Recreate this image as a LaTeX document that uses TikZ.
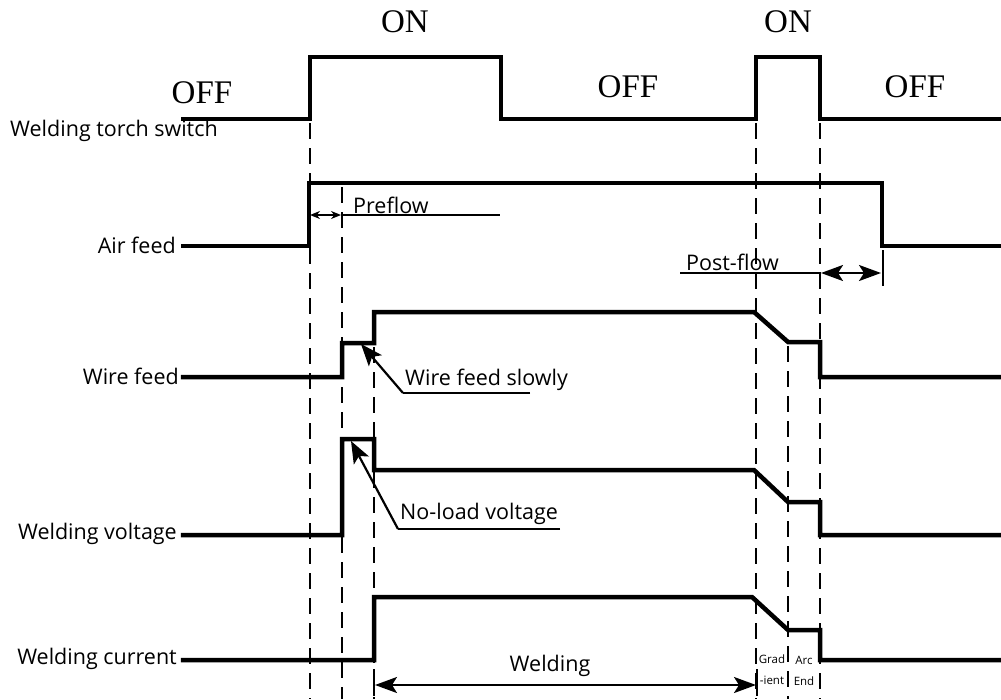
\documentclass[tikz,border=0pt]{standalone}
\usepackage{fontspec}
\setmainfont{Liberation Serif}
\newfontfamily\sansf{Open Sans}
\usetikzlibrary{arrows.meta}
\begin{document}
\begin{tikzpicture}[x=1pt,y=-1pt,
  sig/.style={line width=4.5pt, line join=miter, line cap=rect},
  dsh/.style={line width=2.5pt, dash pattern=on 16pt off 9pt},
  thin/.style={line width=2.2pt},
  lab/.style={font=\sansf\fontsize{21.5}{21.5}\selectfont, inner sep=0pt},
  small/.style={font=\sansf\fontsize{11.5}{11.5}\selectfont, inner sep=0pt},
  st/.style={font=\fontsize{33}{33}\selectfont, inner sep=0pt},
  bigarr/.style={line width=2.2pt, {Stealth[length=22pt,width=16pt,inset=5pt]}-{Stealth[length=22pt,width=16pt,inset=5pt]}},
  smarr/.style={line width=2pt, {Stealth[length=10pt,width=8pt]}-{Stealth[length=10pt,width=8pt]}},
  ptr/.style={line width=2.2pt, -{Stealth[length=22pt,width=17pt,inset=5pt]}}]
\useasboundingbox (0,0) rectangle (1001,699);
% dashed guide lines
\draw[dsh] (310,123) -- (310,699);
\draw[dsh] (342,187) -- (342,699);
\draw[dsh] (374,347) -- (374,699);
\draw[dsh] (756,123) -- (756,699);
\draw[dsh] (788,346) -- (788,699);
\draw[dsh] (820,123) -- (820,699);
% torch switch
\draw[sig] (183,119) -- (310,119) -- (310,57) -- (501,57) -- (501,119) -- (756,119) -- (756,57) -- (820,57) -- (820,119) -- (1001,119);
% air feed
\draw[sig] (183,246) -- (309,246) -- (309,183) -- (882,183) -- (882,246) -- (1001,246);
% wire feed
\draw[sig] (183,377) -- (342,377) -- (342,343) -- (374,343) -- (374,312) -- (754,312) -- (788,342) -- (820,342) -- (820,377) -- (1001,377);
% welding voltage
\draw[sig] (183,535) -- (342,535) -- (342,439) -- (374,439) -- (374,470) -- (754,470) -- (788,502) -- (820,502) -- (820,535) -- (1001,535);
% welding current
\draw[sig] (183,660) -- (374,660) -- (374,597) -- (752,597) -- (788,630) -- (820,630) -- (820,660) -- (1001,660);
% state labels
\node[st] (off1) at (202,93) {OFF};
\node[st] (on1) at (405,22) {ON};
\node[st] (off2) at (628,87) {OFF};
\node[st] (on2) at (788,22) {ON};
\node[st] (off3) at (915,87) {OFF};
% signal names
\node[lab, anchor=west] (ts) at (10,131) {Welding torch switch};
\node[lab, anchor=east] (af) at (176,245) {Air feed};
\node[lab, anchor=east] (wf) at (179,376) {Wire feed};
\node[lab, anchor=east] (wv) at (177,534) {Welding voltage};
\node[lab, anchor=east] (wc) at (177,659) {Welding current};
% preflow
\coordinate (pa) at (310,215);
\coordinate (pb) at (341,215);
\coordinate (pe) at (500,215);
\draw[thin] (pb) -- (pe);
\draw[smarr] (pa) -- (pb);
\node[lab, anchor=west] (pf) at (353,205) {Preflow};
% post-flow
\coordinate (qa) at (680,273);
\coordinate (qb) at (821,273);
\coordinate (qc) at (881,273);
\draw[thin] (qa) -- (qb);
\draw[bigarr] (qb) -- (qc);
\draw[thin] (883,250) -- (883,286);
\node[lab, anchor=west] (pof) at (686,262) {Post-flow};
% wire feed slowly
\coordinate (w1) at (530,393);
\coordinate (w2) at (403,393);
\coordinate (w3) at (361,344);
\draw[thin] (w1) -- (w2);
\draw[ptr] (w2) -- (w3);
\node[lab, anchor=west] (wfs) at (405,380) {Wire feed slowly};
% no-load voltage
\coordinate (v1) at (560,529);
\coordinate (v2) at (398,529);
\coordinate (v3) at (351,441);
\draw[thin] (v1) -- (v2);
\draw[ptr] (v2) -- (v3);
\node[lab, anchor=west] (nlv) at (400,514) {No-load voltage};
% welding arrow
\draw[thin] (374,669) -- (374,696);
\draw[thin] (757,669) -- (757,696);
\coordinate (wa) at (375,685);
\coordinate (wb) at (756,685);
\draw[bigarr] (wa) -- (wb);
\node[lab] (wl) at (550,666) {Welding};
% grad / arc end
\node[small] (g1) at (772,659) {Grad};
\node[small] (g2) at (772,680) {-ient};
\node[small] (a1) at (804,660) {Arc};
\node[small] (a2) at (804,681) {End};
\end{tikzpicture}
\end{document}
